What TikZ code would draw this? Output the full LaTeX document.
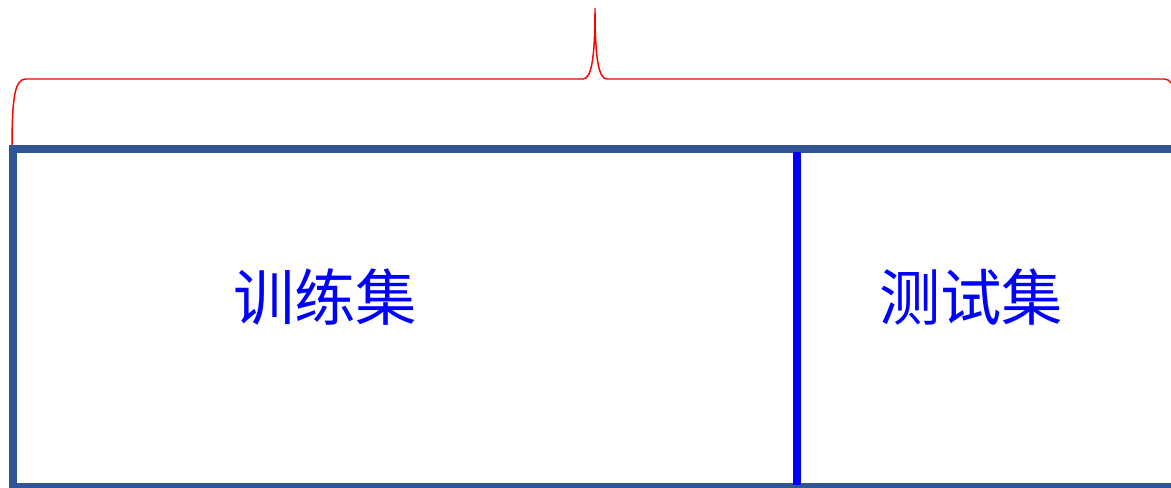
\documentclass[tikz,border=0pt]{standalone}
\usepackage{fontspec}
\newfontfamily\cjk{Noto Sans CJK SC}
\definecolor{frameblue}{HTML}{2F5597}
\definecolor{pureblue}{RGB}{0,0,255}
\definecolor{bracered}{RGB}{255,0,0}
\tikzset{
  framebox/.style={draw=frameblue, line width=6pt},
  divider/.style={draw=pureblue, line width=6pt},
  bracelinestyle/.style={draw=bracered, line width=1.1pt},
  label/.style={text=pureblue, font=\cjk\fontsize{46}{52}\selectfont, inner sep=0pt}
}
\begin{document}
\begin{tikzpicture}[x=0.75pt,y=-0.75pt]
\useasboundingbox (0,0) rectangle (1171,488);
\clip (0,0) rectangle (1171,488);
% brace
\draw[bracelinestyle] (12,152) .. controls (12,100) and (14,79) .. (26,79)
  -- (583,79) .. controls (592,79) and (595,55) .. (595,8)
  .. controls (595,55) and (598,79) .. (607,79)
  -- (1164,79) .. controls (1176,79) and (1178,100) .. (1178,152);
% frame
\coordinate (tl) at (13,149.5);
\coordinate (br) at (1185,487);
\draw[framebox] (tl) rectangle (br);
\coordinate (dtop) at (797,152);
\coordinate (dbot) at (797,485);
\draw[divider] (dtop) -- (dbot);
\node[label] (train) at (325,297) {训练集};
\node[label] (test) at (971,297) {测试集};
\end{tikzpicture}
\end{document}
